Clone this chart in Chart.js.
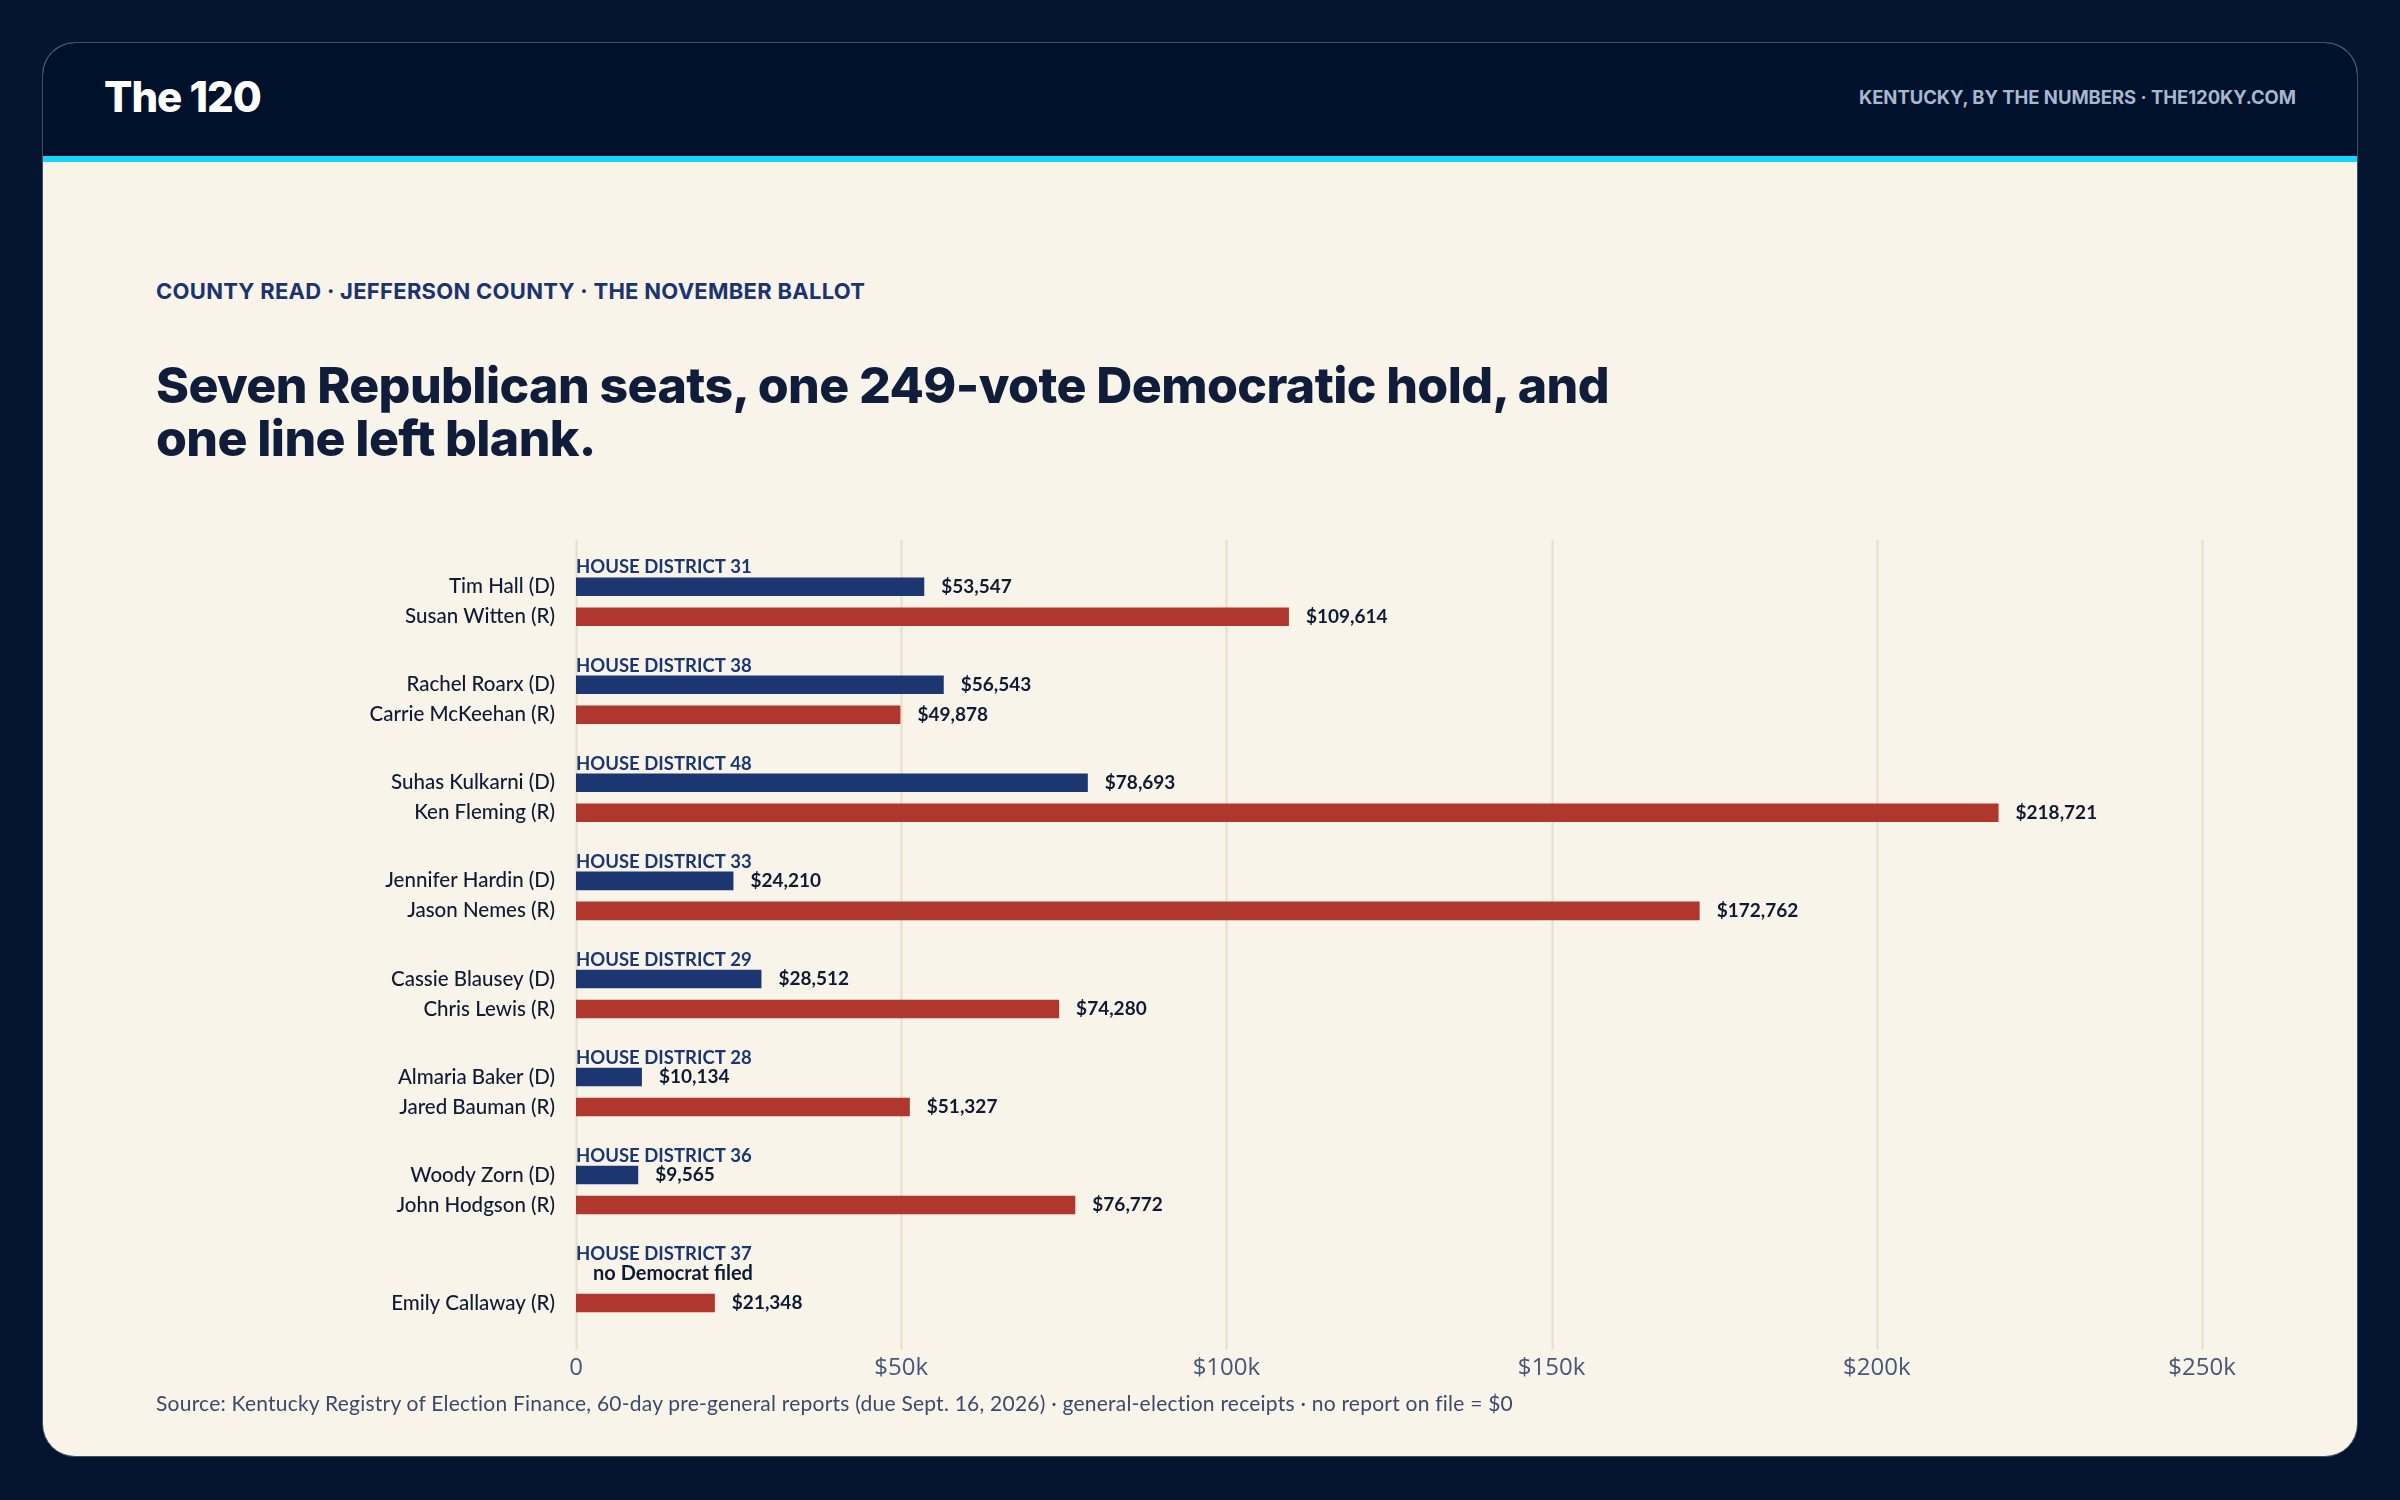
<!DOCTYPE html>
<html>
<head>
<meta charset="utf-8">
<script src="https://cdn.jsdelivr.net/npm/chart.js@4.4.1/dist/chart.umd.min.js"></script>
<style>
  html, body { margin: 0; padding: 0; }
  body { width: 2400px; height: 1500px; background: #06152f; position: relative; overflow: hidden; font-family: Lato, "Noto Sans", sans-serif; }
  .card { position: absolute; left: 43px; top: 43px; width: 2314px; height: 1413px; background: #f8f4ea; border-radius: 32px; overflow: hidden; box-shadow: 0 0 0 1px rgba(190,190,190,0.35); }
  .top { position: absolute; left: 0; top: 0; width: 100%; height: 113px; background: #00112b; }
  .stripe { position: absolute; left: 0; top: 113px; width: 100%; height: 6px; background: #18d4f7; }
  .logo { position: absolute; left: 61px; top: 26px; font-family: Inter, sans-serif; font-weight: 800; font-size: 42px; line-height: 56px; color: #ffffff; letter-spacing: -1px; }
  .tag { position: absolute; right: 61px; top: 40px; font-family: Inter, sans-serif; font-weight: 700; font-size: 18.5px; line-height: 28px; color: #a9b6cf; letter-spacing: -0.05px; }
  .kicker { position: absolute; left: 156px; top: 276px; font-family: Inter, sans-serif; font-weight: 700; font-size: 22px; line-height: 30px; color: #1b3370; letter-spacing: 0.28px; }
  .title { position: absolute; left: 156px; top: 359px; font-family: Inter, sans-serif; font-weight: 800; font-size: 50px; line-height: 53px; color: #0f1d3a; letter-spacing: -0.6px; margin: 0; }
  .source { position: absolute; left: 156px; top: 1389px; font-size: 21px; line-height: 28px; color: #3b4a68; letter-spacing: 0.23px; }
  #chartBox { position: absolute; left: 0; top: 500px; width: 2400px; height: 900px; }
</style>
</head>
<body>
<div class="card">
  <div class="top"></div>
  <div class="stripe"></div>
  <div class="logo">The 120</div>
  <div class="tag">KENTUCKY, BY THE NUMBERS · THE120KY.COM</div>
</div>
<div class="kicker">COUNTY READ · JEFFERSON COUNTY · THE NOVEMBER BALLOT</div>
<h1 class="title">Seven Republican seats, one 249-vote Democratic hold, and<br>one line left blank.</h1>
<div id="chartBox"><canvas id="chart"></canvas></div>
<div class="source">Source: Kentucky Registry of Election Finance, 60-day pre-general reports (due Sept. 16, 2026) · general-election receipts · no report on file = $0</div>

<script>
const districts = ['HOUSE DISTRICT 31', 'HOUSE DISTRICT 38', 'HOUSE DISTRICT 48', 'HOUSE DISTRICT 33',
  'HOUSE DISTRICT 29', 'HOUSE DISTRICT 28', 'HOUSE DISTRICT 36', 'HOUSE DISTRICT 37'];
const demNames = ['Tim Hall (D)', 'Rachel Roarx (D)', 'Suhas Kulkarni (D)', 'Jennifer Hardin (D)',
  'Cassie Blausey (D)', 'Almaria Baker (D)', 'Woody Zorn (D)', null];
const demValues = [53547, 56543, 78693, 24210, 28512, 10134, 9565, null];
const repNames = ['Susan Witten (R)', 'Carrie McKeehan (R)', 'Ken Fleming (R)', 'Jason Nemes (R)',
  'Chris Lewis (R)', 'Jared Bauman (R)', 'John Hodgson (R)', 'Emily Callaway (R)'];
const repValues = [109614, 49878, 218721, 172762, 74280, 51327, 76772, 21348];
const xTickLabels = ['0', '$50k', '$100k', '$150k', '$200k', '$250k'];
const noDemText = 'no Democrat filed';

const DEM = '#1b3670';
const REP = '#b0372e';
const INK = '#0f1b33';
const CAT_PCT = 0.612;

const money = v => '$' + v.toLocaleString('en-US');

// vertical grid lines that run a little past the bars, like the original
const gridPlugin = {
  id: 'grid',
  beforeDatasetsDraw(chart) {
    const { ctx, chartArea, scales: { x } } = chart;
    ctx.save();
    ctx.strokeStyle = '#e7dec9';
    ctx.lineWidth = 2;
    x.ticks.forEach(t => {
      const px = Math.round(x.getPixelForValue(t.value)) + 0.5;
      ctx.beginPath();
      ctx.moveTo(px, chartArea.top - 12.5);
      ctx.lineTo(px, chartArea.bottom + 12.5);
      ctx.stroke();
    });
    ctx.restore();
  }
};

// names on the left, amounts after the bars, district headers above each pair
const labelPlugin = {
  id: 'labels',
  afterDatasetsDraw(chart) {
    const { ctx, chartArea, scales: { x, y } } = chart;
    const catH = y.getPixelForValue(1) - y.getPixelForValue(0);
    const off = catH * CAT_PCT / 4;
    const barH = catH * CAT_PCT / 2 * 0.617;
    ctx.save();
    districts.forEach((d, i) => {
      const yc = y.getPixelForValue(i);
      const yD = yc - off, yR = yc + off;

      ctx.font = '700 18.5px Lato';
      ctx.fillStyle = DEM;
      ctx.textAlign = 'left';
      ctx.textBaseline = 'alphabetic';
      ctx.fillText(d, chartArea.left, yD - barH / 2 - 4);

      ctx.textBaseline = 'middle';
      ctx.font = '500 20.5px Lato';
      ctx.fillStyle = INK;
      ctx.textAlign = 'right';
      if (demNames[i]) ctx.fillText(demNames[i], chartArea.left - 21, yD);
      ctx.fillText(repNames[i], chartArea.left - 21, yR);

      ctx.font = '700 19px Lato';
      ctx.textAlign = 'left';
      if (demValues[i] != null) {
        ctx.fillText(money(demValues[i]), x.getPixelForValue(demValues[i]) + 17, yD);
      } else {
        ctx.font = '700 20px Lato';
        ctx.fillText(noDemText, chartArea.left + 17, yD);
        ctx.font = '700 19px Lato';
      }
      ctx.fillText(money(repValues[i]), x.getPixelForValue(repValues[i]) + 17, yR);
    });
    ctx.restore();
  }
};

new Chart(document.getElementById('chart'), {
  type: 'bar',
  data: {
    labels: districts,
    datasets: [
      { label: 'Democrat', data: demValues, backgroundColor: DEM },
      { label: 'Republican', data: repValues, backgroundColor: REP }
    ]
  },
  options: {
    indexAxis: 'y',
    responsive: true,
    maintainAspectRatio: false,
    animation: false,
    categoryPercentage: CAT_PCT,
    barPercentage: 0.617,
    layout: { padding: { left: 576, right: 198, top: 52.7, bottom: 12.9 } },
    scales: {
      x: {
        min: 0,
        max: 250000,
        grid: { display: false },
        border: { display: false },
        afterFit: s => { s.height = 50; },
        ticks: {
          stepSize: 50000,
          padding: 9,
          color: '#46577a',
          font: { family: 'Open Sans', size: 24 },
          callback: (v, i) => xTickLabels[i]
        }
      },
      y: { display: false }
    },
    plugins: {
      legend: { display: false },
      tooltip: { enabled: false }
    }
  },
  plugins: [gridPlugin, labelPlugin]
});
</script>
</body>
</html>
